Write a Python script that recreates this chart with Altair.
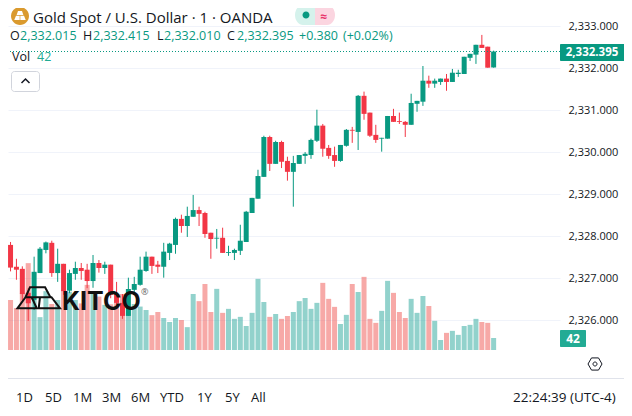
import altair as alt
import pandas as pd

opens = [2327.79,2327.27,2327.22,2326.65,2326.48,2327.12,2327.67,2327.84,2327.12,2327.34,2326.70,2327.10,2327.24,2327.20,2326.93,2327.36,2327.24,2327.32,2326.62,2326.41,2326.10,2326.72,2326.84,2327.17,2327.51,2327.32,2327.27,2327.60,2327.79,2328.41,2328.24,2328.46,2328.62,2328.55,2328.08,2327.94,2327.96,2327.60,2327.60,2327.65,2327.86,2328.55,2328.89,2329.41,2330.36,2329.72,2330.24,2329.79,2329.53,2329.72,2329.91,2329.93,2330.27,2330.63,2330.10,2329.93,2329.79,2330.15,2330.53,2330.48,2331.34,2330.94,2330.41,2330.32,2330.32,2330.86,2330.74,2330.72,2330.65,2331.15,2331.20,2331.70,2331.63,2331.67,2331.75,2331.67,2331.86,2331.86,2332.245,2332.32,2332.555,2332.51,2332.015]
highs = [2327.86,2327.46,2327.28,2326.76,2327.51,2327.74,2327.87,2327.89,2327.70,2327.34,2327.20,2327.39,2327.36,2327.34,2327.55,2327.43,2327.39,2327.32,2326.91,2326.62,2327.01,2327.03,2327.51,2327.63,2327.51,2327.41,2327.84,2327.84,2328.44,2328.51,2328.70,2328.98,2328.70,2328.58,2328.08,2328.17,2328.20,2327.77,2327.70,2328.27,2328.60,2328.91,2329.58,2330.39,2330.39,2330.27,2330.27,2329.89,2329.91,2329.93,2330.00,2330.32,2331.01,2330.67,2330.17,2330.13,2330.17,2330.55,2330.60,2331.36,2331.44,2330.94,2330.65,2330.34,2330.86,2331.03,2330.94,2330.74,2331.39,2331.22,2332.05,2331.82,2331.75,2331.75,2331.86,2331.98,2331.96,2332.27,2332.34,2332.555,2332.79,2332.51,2332.415]
lows = [2327.16,2326.96,2326.48,2325.98,2326.24,2327.12,2327.59,2327.03,2326.91,2326.60,2326.64,2326.96,2326.96,2326.76,2326.77,2327.13,2327.10,2326.52,2326.31,2326.03,2326.10,2326.60,2326.82,2327.15,2327.10,2327.12,2327.01,2327.43,2327.58,2328.08,2327.98,2328.46,2328.24,2327.96,2327.46,2327.70,2327.60,2327.53,2327.43,2327.55,2327.86,2328.55,2328.89,2329.41,2329.55,2329.72,2329.62,2329.32,2328.70,2329.72,2329.72,2329.84,2330.24,2329.89,2329.84,2329.65,2329.77,2330.13,2330.22,2330.05,2330.77,2330.36,2330.22,2330.01,2330.32,2330.72,2330.67,2330.36,2330.65,2330.96,2331.10,2331.53,2331.53,2331.60,2331.46,2331.67,2331.79,2331.86,2332.17,2332.10,2332.48,2332.01,2332.010]
closes = [2327.25,2327.20,2326.62,2326.40,2327.15,2327.70,2327.85,2327.12,2327.34,2326.69,2327.12,2327.24,2327.17,2326.93,2327.36,2327.24,2327.32,2326.60,2326.41,2326.10,2326.74,2326.86,2327.20,2327.51,2327.29,2327.27,2327.63,2327.82,2328.41,2328.24,2328.48,2328.62,2328.53,2328.05,2327.93,2327.96,2327.60,2327.62,2327.67,2327.89,2328.58,2328.91,2329.43,2330.36,2329.72,2330.24,2329.77,2329.53,2329.74,2329.93,2329.96,2330.29,2330.63,2330.08,2329.91,2329.79,2330.17,2330.53,2330.51,2331.34,2330.91,2330.39,2330.29,2330.34,2330.86,2330.72,2330.72,2330.65,2331.17,2331.22,2331.70,2331.63,2331.70,2331.75,2331.67,2331.89,2331.89,2332.27,2332.34,2332.555,2332.48,2332.01,2332.395]
volumes = [175,147,198,304,175,115,206,161,175,210,204,175,163,228,198,187,158,160,175,196,152,161,152,140,122,133,112,98,112,105,80,196,171,231,133,214,130,144,109,116,84,130,249,168,116,126,109,119,133,171,182,144,165,235,179,151,91,123,231,203,256,109,95,137,242,200,133,112,179,130,189,154,102,35,60,67,53,84,88,109,98,95,42]

hour_ticks = ["21:15", "21:30", "21:45", "22:00", "22:15", "22:30"]
price_ticks = [2326, 2327, 2328, 2329, 2330, 2331, 2332, 2333]
ranges = ["1D", "5D", "1M", "3M", "6M", "YTD", "1Y", "5Y", "All"]
range_x = [16, 45, 73, 102, 131, 160, 197, 225, 251]

GREEN = "#089981"
RED = "#F23645"
FONT = "Open Sans"
INK = "#131722"

times = pd.date_range("2024-05-01T21:02:00", periods=len(opens), freq="min").strftime("%Y-%m-%dT%H:%M:%S")
df = pd.DataFrame({"t": list(times), "o": opens, "h": highs, "l": lows, "c": closes, "v": volumes})
df["dir"] = ["up" if c >= o else "down" for o, c in zip(opens, closes)]
df["lo_b"] = df[["o", "c"]].min(axis=1)
df["hi_b"] = df[["o", "c"]].max(axis=1)


def dt(hh, mm, ss=0):
    return alt.DateTime(year=2024, month=5, date=1, hours=hh, minutes=mm, seconds=ss)


xscale = alt.Scale(domain=[dt(21, 2, 25), dt(22, 34, 25)], nice=False)
yscale = alt.Scale(domain=[2325.288, 2333.431], nice=False, zero=False)
vscale = alt.Scale(domain=[0, 1197], nice=False, zero=False)
xvals = [dt(int(s[:2]), int(s[3:])) for s in hour_ticks]
xenc = alt.X("t:T", scale=xscale, axis=None)
dirs = ["up", "down"]

volume = alt.Chart(df).mark_bar(size=5, opacity=0.5).encode(
    x=alt.X(
        "t:T", scale=xscale, title=None,
        axis=alt.Axis(
            values=xvals, format="%H:%M", grid=True, gridColor="#f0f3fa", domain=False, ticks=False,
            labelFont=FONT, labelFontSize=11.5, labelColor=INK, labelPadding=6, labelFlush=False,
            labelFontWeight={"condition": {"test": "datum.label == '22:00'", "value": "bold"}, "value": "normal"},
        ),
    ),
    y=alt.Y("v:Q", scale=vscale, axis=None),
    color=alt.Color("dir:N", scale=alt.Scale(domain=dirs, range=["#26a69a", "#ef5350"]), legend=None),
)

wicks = alt.Chart(df).mark_rule(strokeWidth=1).encode(
    x=xenc,
    y=alt.Y("l:Q", scale=yscale, axis=None),
    y2="h:Q",
    color=alt.Color("dir:N", scale=alt.Scale(domain=dirs, range=[GREEN, RED]), legend=None),
)

bodies = alt.Chart(df).mark_bar(size=5).encode(
    x=xenc,
    y=alt.Y(
        "lo_b:Q", scale=yscale, title=None,
        axis=alt.Axis(
            orient="right", values=price_ticks, format=",.3f", grid=True, gridColor="#f0f3fa",
            domain=False, ticks=False, labelFont=FONT, labelFontSize=11, labelColor=INK, labelPadding=8,
        ),
    ),
    y2="hi_b:Q",
    color=alt.Color("dir:N", scale=alt.Scale(domain=dirs, range=[GREEN, RED]), legend=None),
)

last = alt.Chart(pd.DataFrame({"p": [closes[-1]]})).mark_rule(
    strokeWidth=1, strokeDash=[1, 2]
).encode(y=alt.Y("p:Q", scale=yscale, axis=None), color=alt.value(GREEN))

one = alt.Data(values=[{"k": 1}])


def px(v):
    return v - 8


def text(s, x, y, color=INK, size=12.5, weight="normal", align="left", font=FONT):
    return alt.Chart(one).mark_text(
        align=align, baseline="middle", font=font, fontSize=size, fontWeight=weight, color=color
    ).encode(x=alt.value(px(x)), y=alt.value(px(y)), text=alt.value(s))


def box(x1, x2, y1, y2, fill, radius=0, stroke=None):
    kw = {"fill": fill, "cornerRadius": radius}
    if stroke:
        kw["stroke"] = stroke
    return alt.Chart(one).mark_rect(**kw).encode(
        x=alt.value(px(x1)), x2=alt.value(px(x2)), y=alt.value(px(y1)), y2=alt.value(px(y2))
    )


def glyph(path, x, y, half, fill=None, stroke=None, sw=1.5):
    kw = {"shape": path, "size": (2 * half) ** 2, "opacity": 1, "filled": bool(fill)}
    if fill:
        kw["fill"] = fill
    if stroke:
        kw["stroke"] = stroke
        kw["strokeWidth"] = sw
    else:
        kw["strokeWidth"] = 0
    return alt.Chart(one).mark_point(**kw).encode(x=alt.value(px(x)), y=alt.value(px(y)))


LOGO = ("M-.41 -.52L.3 -.52L.55 -.05L-.62 -.05Z"
        "M-.62 -.05L-1 .47L-.09 .47L-.33 -.05Z"
        "M.06 -.05L.6 -.05L1 .47L0 .47Z")
BARS = ("M-.25 -.62L.25 -.62L.42 -.12L-.42 -.12Z"
        "M-.5 -.02L-.04 -.02L-.04 .5L-.72 .5Z"
        "M.04 -.02L.5 -.02L.72 .5L.04 .5Z")
HEX = "M-1 0L-.5 -.87L.5 -.87L1 0L.5 .87L-.5 .87Z"
CHEV = "M-1 .5L0 -.5L1 .5"
LEFT_PILL = "M1 -1L-.2 -1A.8 1 0 0 0 -.2 1L1 1Z"
RIGHT_PILL = "M-1 -1L.2 -1A.8 1 0 0 1 .2 1L-1 1Z"
DISC = "M0 -1A1 1 0 1 1 0 1A1 1 0 1 1 0 -1Z"

overlay = [
    glyph(DISC, 20, 16, 9, fill="#DA9A2E"),
    glyph(BARS, 20, 16, 8, fill="#ffffff"),
    text("Gold Spot / U.S. Dollar · 1 · OANDA", 33, 17.5, size=15),
    glyph(LEFT_PILL, 305, 15, 10, fill="#D5F2EC"),
    glyph(RIGHT_PILL, 325, 15, 10, fill="#FBD5E0"),
    glyph(DISC, 306, 15, 3.5, fill=GREEN),
    text("≈", 324, 17, color="#E8326A", size=12, align="center", weight="bold"),
    text("O", 10, 36), text("2,332.015", 20, 36, color=GREEN),
    text("H", 83, 36), text("2,332.415", 93, 36, color=GREEN),
    text("L", 157, 36), text("2,332.010", 164, 36, color=GREEN),
    text("C", 227, 36), text("2,332.395", 237, 36, color=GREEN),
    text("+0.380", 299, 36, color=GREEN),
    text("(+0.02%)", 343, 36, color=GREEN),
    text("Vol", 12, 57), text("42", 37, 57, color="#22AB94"),
    box(11.5, 39.5, 71.5, 91.5, "#ffffff", radius=3, stroke="#d1d4dc"),
    glyph(CHEV, 25.5, 81, 4, stroke=INK, sw=1.5),
    glyph(LOGO, 38.7, 298.3, 21.3, stroke="#111111", sw=2),
    text("KITCO", 62, 302, color="#111111", size=25, weight="bold", font="Inter"),
    text("®", 141, 292, color="#666666", size=9),
    box(560, 627, 44, 61, GREEN, radius=1),
    text("2,332.395", 592, 52.5, color="#ffffff", size=11.5, weight="bold", align="center"),
    box(560, 586, 330, 347, "#22AB94", radius=1),
    text("42", 573, 338.5, color="#ffffff", size=12, weight="bold", align="center"),
    glyph(HEX, 595, 364, 7, stroke=INK, sw=1),
    glyph(DISC, 595, 364, 2, stroke=INK, sw=1),
    box(8, 630, 378, 379, "#e0e3eb"),
    text("22:24:39 (UTC-4)", 513, 398, size=13.5),
]
overlay += [text(s, x, 398, size=13) for s, x in zip(ranges, range_x)]

chart = alt.layer(volume, wicks, bodies, last, *overlay).resolve_scale(
    y="independent", color="independent"
).properties(
    width=552, height=342,
    padding={"left": 0, "top": 0, "right": 64, "bottom": 58},
    autosize=alt.AutoSizeParams(type="none"),
    background="#ffffff",
).configure_view(stroke=None)

chart.save("out.html", embed_options={"renderer": "svg", "actions": False})
